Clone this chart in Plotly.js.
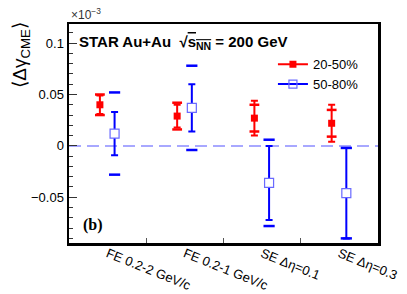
<!DOCTYPE html>
<html><head><meta charset="utf-8">
<script src="https://cdn.plot.ly/plotly-3.0.1.min.js"></script>
<style>html,body{margin:0;padding:0;background:#fff}#c{width:407px;height:294px}</style>
</head><body><div id="c"></div>
<script>
// categories (tick labels)
var categories = ["FE 0.2-2 GeV/c", "FE 0.2-1 GeV/c", "SE \u0394\u03b7=0.1", "SE \u0394\u03b7=0.3"];
// 20-50% centrality
var cent2050 = [0.040, 0.029, 0.027, 0.022];
var cent2050Stat = [0.009, 0.011, 0.017, 0.018];
var cent2050Sys = [0.010, 0.013, 0.013, 0.013];
// 50-80% centrality
var cent5080 = [0.012, 0.037, -0.036, -0.046];
var cent5080Stat = [0.021, 0.023, 0.036, 0.044];
var cent5080Sys = [0.040, 0.041, 0.042, 0.044];

var idx = categories.map(function(_, i){ return i; });
var xRed = idx.map(function(i){ return i - 0.1; });
var xBlue = idx.map(function(i){ return i + 0.09; });
function plus(v, e){ return v.map(function(a, i){ return a + e[i]; }); }
function minus(v, e){ return v.map(function(a, i){ return a - e[i]; }); }

var RED = '#ff0000', BLUE = '#0000ff', BLUE_L = '#6a6aff';

function sysMarks(x, yv, color, size, sym){
  return {x: x, y: yv, type:'scatter', mode:'markers', showlegend:false, hoverinfo:'skip',
          marker:{symbol:sym, size:size, color:color, line:{color:color, width:2.5}}};
}

var traces = [
  // statistical
  {x: xRed, y: cent2050, type:'scatter', mode:'markers', name:'20-50%',
   marker:{symbol:'square', size:7, color:RED},
   error_y:{type:'data', array:cent2050Stat, color:RED, thickness:2, width:3.5}, showlegend:false},
  {x: xBlue, y: cent5080, type:'scatter', mode:'markers', name:'50-80%',
   marker:{symbol:'square', size:9, color:'#ffffff', line:{color:BLUE_L, width:1.2}},
   error_y:{type:'data', array:cent5080Stat, color:BLUE, thickness:2, width:3.5}, showlegend:false},
  // systematic brackets
  sysMarks(xRed, plus(cent2050, cent2050Sys), RED, 7, 'line-ew'),
  sysMarks(xRed, minus(cent2050, cent2050Sys), RED, 7, 'line-ew'),
  sysMarks(xBlue, plus(cent5080, cent5080Sys), BLUE, 8, 'line-ew'),
  sysMarks(xBlue, minus(cent5080, cent5080Sys), BLUE, 8, 'line-ew'),
  // legend entries
  {x:[null], y:[null], type:'scatter', mode:'lines+markers', name:'20-50%',
   line:{color:RED, width:2}, marker:{symbol:'square', size:7, color:RED}},
  {x:[null], y:[null], type:'scatter', mode:'lines+markers', name:'50-80%',
   line:{color:BLUE, width:2}, marker:{symbol:'square-open', size:8, color:BLUE_L, line:{width:1.2}}},
  // category labels on overlay axis
  {x: idx, y: cent2050.map(function(){return null;}), type:'scatter', mode:'markers', xaxis:'x2', showlegend:false, hoverinfo:'skip'}
];

var layout = {
  width:407, height:294,
  margin:{l:69, r:29, t:24, b:51},
  paper_bgcolor:'#fff', plot_bgcolor:'#fff',
  font:{family:'Liberation Sans, Arial, sans-serif', color:'#000', size:13},
  showlegend:true,
  legend:{x:0.66, y:0.885, xanchor:'left', yanchor:'top', bgcolor:'rgba(0,0,0,0)',
          font:{size:13}, tracegroupgap:0, itemsizing:'trace'},
  xaxis:{range:[-0.5, 3.5], tickvals:[0.5, 1.5, 2.5], showticklabels:false,
         ticks:'inside', ticklen:5, tickwidth:1, tickcolor:'#555',
         showline:true, linewidth:2.5, linecolor:'#000', mirror:true,
         showgrid:false, zeroline:false},
  xaxis2:{range:[-0.5, 3.5], overlaying:'x', side:'bottom', tickvals:idx, ticktext:categories,
          tickangle:22, ticks:'', showline:false, showgrid:false, zeroline:false,
          tickfont:{size:13, family:'Liberation Sans, Arial, sans-serif'}},
  yaxis:{range:[-0.0945, 0.1186], tickvals:[-0.05, 0, 0.05, 0.1], ticktext:['\u22120.05','0','0.05','0.1'],
         ticks:'inside', ticklen:8, tickwidth:1, tickcolor:'#333',
         minor:{dtick:0.01, tick0:0, ticks:'inside', ticklen:4, tickcolor:'#333', tickwidth:1},
         showline:true, linewidth:2.5, linecolor:'#000', mirror:true,
         showgrid:false, zeroline:false, tickfont:{size:13}},
  shapes:[
    {type:'line', xref:'paper', x0:0, x1:1, yref:'y', y0:0, y1:0,
     line:{color:'#8c8cff', width:1.5, dash:'12px,6px'}, layer:'below'}
  ],
  annotations:[
    {xref:'paper', yref:'paper', x:0.025, y:0.915, xanchor:'left', yanchor:'middle', showarrow:false,
     text:'<b>STAR Au+Au  \u221a<span style="text-decoration:overline">s<sub>NN</sub></span> = 200 GeV</b>',
     font:{size:15, family:'Liberation Sans, Arial, sans-serif'}},
    {xref:'paper', yref:'paper', x:0, y:1, xanchor:'left', yanchor:'bottom', yshift:0, showarrow:false,
     text:'\u00d710<sup>\u22123</sup>', font:{size:12, color:'#333'}},
    {xref:'paper', yref:'paper', x:-0.155, y:0.86, xanchor:'center', yanchor:'middle', textangle:-90, showarrow:false,
     text:'\u27e8\u0394\u03b3<sub>CME</sub>\u27e9', font:{size:19}},
    {xref:'paper', yref:'paper', x:0.04, y:0.08, xanchor:'left', yanchor:'middle', showarrow:false,
     text:'<b>(b)</b>', font:{size:16, family:'Liberation Serif, Times New Roman, serif'}}
  ]
};

Plotly.newPlot('c', traces, layout, {staticPlot:true, displayModeBar:false});
</script>
</body></html>
